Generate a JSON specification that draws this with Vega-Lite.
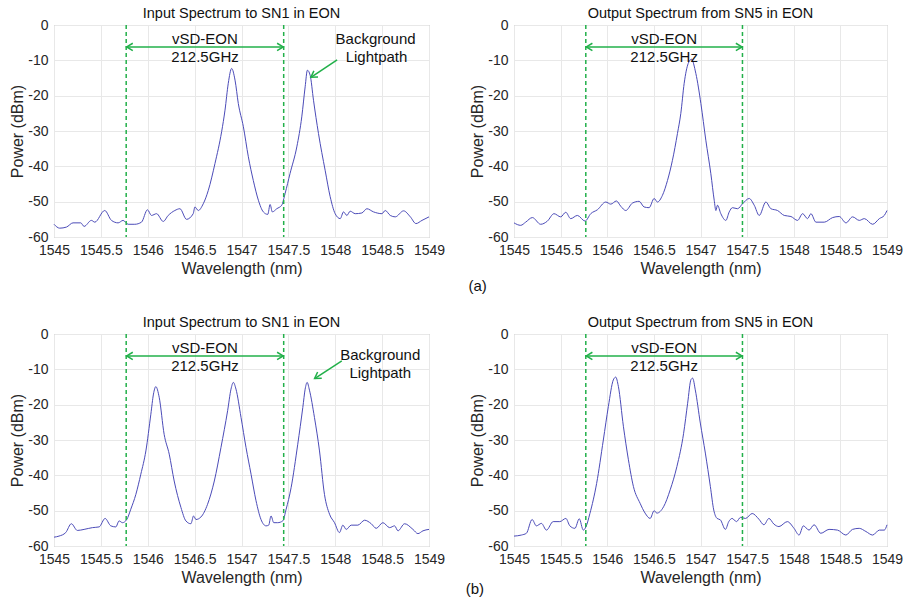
{
  "$schema": "https://vega.github.io/schema/vega-lite/v6.json",
  "background": "white",
  "padding": {"left": 9, "top": 5, "right": 5, "bottom": 5},
  "config": {
    "font": "Liberation Sans",
    "view": {"stroke": "#a8a8a8", "strokeWidth": 1},
    "axis": {"grid": true, "gridColor": "#e8e8e8", "domain": false, "ticks": false, "labelFontSize": 14, "labelColor": "#262626", "titleFontSize": 16, "titleFontWeight": "normal", "titleColor": "#262626", "labelOverlap": false, "labelFlush": false, "labelExpr": "replace(datum.label, '\u2212', '-')"},
    "axisX": {"labelPadding": 6, "titlePadding": 3},
    "axisY": {"labelPadding": 6, "titlePadding": 2},
    "title": {"fontSize": 14.5, "fontWeight": "normal", "color": "#111111", "offset": -3},
    "line": {"color": "#4b4bb8", "strokeWidth": 1, "interpolate": "monotone"},
    "text": {"fontSize": 15, "color": "#111111"}
  },
  "datasets": {
    "s1": [
      {"w":1545.000,"p":-56.4},{"w":1545.061,"p":-57.5},{"w":1545.132,"p":-57.2},{"w":1545.203,"p":-56},{"w":1545.285,"p":-56},{"w":1545.321,"p":-57},{"w":1545.399,"p":-55.3},{"w":1545.435,"p":-55.8},{"w":1545.541,"p":-52.5},{"w":1545.613,"p":-55.3},{"w":1545.684,"p":-56},{"w":1545.737,"p":-55.3},{"w":1545.791,"p":-56.4},{"w":1545.862,"p":-56.4},{"w":1545.933,"p":-55.8},{"w":1545.997,"p":-52.3},{"w":1546.040,"p":-53.9},{"w":1546.094,"p":-53.4},{"w":1546.165,"p":-55.6},{"w":1546.218,"p":-53.9},{"w":1546.289,"p":-52.5},{"w":1546.343,"p":-52},{"w":1546.414,"p":-55},{"w":1546.485,"p":-53.4},{"w":1546.503,"p":-51.5},{"w":1546.539,"p":-52.5},{"w":1546.592,"p":-50.6},{"w":1546.646,"p":-46.8},{"w":1546.717,"p":-39.2},{"w":1546.788,"p":-30.2},{"w":1546.824,"p":-24.1},{"w":1546.859,"p":-16.5},{"w":1546.895,"p":-12.3},{"w":1546.931,"p":-15.6},{"w":1546.966,"p":-22.2},{"w":1547.020,"p":-28.8},{"w":1547.073,"p":-37.3},{"w":1547.126,"p":-44},{"w":1547.180,"p":-49.6},{"w":1547.233,"p":-52.9},{"w":1547.280,"p":-53.6},{"w":1547.305,"p":-50.8},{"w":1547.329,"p":-52.9},{"w":1547.376,"p":-52},{"w":1547.429,"p":-51},{"w":1547.465,"p":-47.7},{"w":1547.518,"p":-42},{"w":1547.590,"p":-34.5},{"w":1547.643,"p":-26},{"w":1547.679,"p":-17.5},{"w":1547.703,"p":-12.8},{"w":1547.732,"p":-14.2},{"w":1547.768,"p":-21.3},{"w":1547.821,"p":-30.7},{"w":1547.892,"p":-41.1},{"w":1547.946,"p":-48.6},{"w":1547.999,"p":-53.4},{"w":1548.053,"p":-54.8},{"w":1548.088,"p":-52.9},{"w":1548.124,"p":-53.9},{"w":1548.159,"p":-52.7},{"w":1548.213,"p":-53.4},{"w":1548.284,"p":-53.2},{"w":1548.337,"p":-52},{"w":1548.409,"p":-52.9},{"w":1548.498,"p":-53.4},{"w":1548.533,"p":-52.5},{"w":1548.587,"p":-53.9},{"w":1548.640,"p":-54.3},{"w":1548.729,"p":-52.6},{"w":1548.801,"p":-54.3},{"w":1548.861,"p":-56.2},{"w":1548.925,"p":-55.3},{"w":1549.000,"p":-54.3}
    ],
    "s2": [
      {"w":1545.000,"p":-56},{"w":1545.072,"p":-56.7},{"w":1545.125,"p":-55.8},{"w":1545.197,"p":-54.5},{"w":1545.286,"p":-56.4},{"w":1545.358,"p":-55.5},{"w":1545.429,"p":-53.4},{"w":1545.501,"p":-54.3},{"w":1545.555,"p":-53},{"w":1545.608,"p":-54.8},{"w":1545.680,"p":-53.9},{"w":1545.762,"p":-55.5},{"w":1545.823,"p":-53.4},{"w":1545.894,"p":-52.3},{"w":1545.984,"p":-50.1},{"w":1546.038,"p":-50.7},{"w":1546.098,"p":-49.8},{"w":1546.145,"p":-51.3},{"w":1546.199,"p":-52.5},{"w":1546.270,"p":-50.4},{"w":1546.342,"p":-49.9},{"w":1546.395,"p":-51.5},{"w":1546.449,"p":-51.7},{"w":1546.503,"p":-49.1},{"w":1546.538,"p":-50.1},{"w":1546.592,"p":-48.2},{"w":1546.646,"p":-44},{"w":1546.699,"p":-38.3},{"w":1546.753,"p":-30.7},{"w":1546.789,"p":-25},{"w":1546.825,"p":-16.5},{"w":1546.868,"p":-10.9},{"w":1546.903,"p":-9.7},{"w":1546.950,"p":-13.7},{"w":1547.004,"p":-22.2},{"w":1547.057,"p":-32.6},{"w":1547.111,"p":-42.1},{"w":1547.147,"p":-49.6},{"w":1547.165,"p":-52.5},{"w":1547.182,"p":-51},{"w":1547.218,"p":-53.4},{"w":1547.272,"p":-55.3},{"w":1547.308,"p":-52.9},{"w":1547.343,"p":-51.7},{"w":1547.397,"p":-52},{"w":1547.451,"p":-50.6},{"w":1547.522,"p":-49.1},{"w":1547.576,"p":-51},{"w":1547.630,"p":-53.9},{"w":1547.701,"p":-50.1},{"w":1547.755,"p":-52},{"w":1547.826,"p":-52.5},{"w":1547.898,"p":-53.9},{"w":1547.970,"p":-54.2},{"w":1548.041,"p":-55.3},{"w":1548.095,"p":-53.4},{"w":1548.148,"p":-54.8},{"w":1548.184,"p":-53.4},{"w":1548.238,"p":-55.8},{"w":1548.327,"p":-55.8},{"w":1548.417,"p":-54.5},{"w":1548.488,"p":-54.2},{"w":1548.560,"p":-56},{"w":1548.631,"p":-54.3},{"w":1548.703,"p":-55.3},{"w":1548.757,"p":-54.8},{"w":1548.846,"p":-56.4},{"w":1548.918,"p":-54.8},{"w":1548.971,"p":-53.9},{"w":1549.000,"p":-52.5}
    ],
    "s3": [
      {"w":1545.000,"p":-57.5},{"w":1545.053,"p":-57.2},{"w":1545.125,"p":-56.2},{"w":1545.185,"p":-53.7},{"w":1545.249,"p":-55.6},{"w":1545.321,"p":-55.3},{"w":1545.410,"p":-54.8},{"w":1545.481,"p":-54.6},{"w":1545.545,"p":-52.2},{"w":1545.606,"p":-54.3},{"w":1545.659,"p":-54.6},{"w":1545.695,"p":-52.9},{"w":1545.730,"p":-53.4},{"w":1545.776,"p":-52.5},{"w":1545.819,"p":-49.6},{"w":1545.873,"p":-45.4},{"w":1545.926,"p":-39.7},{"w":1545.980,"p":-33.1},{"w":1546.033,"p":-22.7},{"w":1546.061,"p":-17},{"w":1546.086,"p":-14.9},{"w":1546.122,"p":-17.9},{"w":1546.175,"p":-28.4},{"w":1546.229,"p":-34},{"w":1546.282,"p":-41.6},{"w":1546.354,"p":-49.1},{"w":1546.407,"p":-52.9},{"w":1546.460,"p":-53.7},{"w":1546.489,"p":-51.5},{"w":1546.514,"p":-52.5},{"w":1546.567,"p":-51.8},{"w":1546.638,"p":-48.2},{"w":1546.710,"p":-41.6},{"w":1546.781,"p":-32.1},{"w":1546.852,"p":-21.7},{"w":1546.888,"p":-15.6},{"w":1546.913,"p":-13.7},{"w":1546.941,"p":-15.6},{"w":1546.995,"p":-23.6},{"w":1547.048,"p":-32.1},{"w":1547.102,"p":-39.7},{"w":1547.155,"p":-47.2},{"w":1547.208,"p":-52.5},{"w":1547.262,"p":-54.3},{"w":1547.290,"p":-54.1},{"w":1547.315,"p":-51.5},{"w":1547.344,"p":-53.4},{"w":1547.386,"p":-53.4},{"w":1547.440,"p":-52.9},{"w":1547.476,"p":-49.6},{"w":1547.529,"p":-43.5},{"w":1547.600,"p":-31.2},{"w":1547.654,"p":-20.8},{"w":1547.679,"p":-15.6},{"w":1547.700,"p":-13.7},{"w":1547.725,"p":-15.9},{"w":1547.778,"p":-23.6},{"w":1547.832,"p":-33.1},{"w":1547.885,"p":-45.4},{"w":1547.939,"p":-51},{"w":1547.992,"p":-53.4},{"w":1548.045,"p":-56.2},{"w":1548.081,"p":-54.1},{"w":1548.117,"p":-55.3},{"w":1548.170,"p":-54.1},{"w":1548.241,"p":-54.1},{"w":1548.313,"p":-52.7},{"w":1548.384,"p":-53.7},{"w":1548.437,"p":-55},{"w":1548.508,"p":-53.4},{"w":1548.580,"p":-54.8},{"w":1548.633,"p":-54.3},{"w":1548.669,"p":-55.7},{"w":1548.740,"p":-53.7},{"w":1548.829,"p":-55.3},{"w":1548.882,"p":-56.5},{"w":1548.936,"p":-55.7},{"w":1549.000,"p":-55.3}
    ],
    "s4": [
      {"w":1545.000,"p":-57.2},{"w":1545.079,"p":-56.9},{"w":1545.133,"p":-56.4},{"w":1545.194,"p":-52.5},{"w":1545.240,"p":-54.3},{"w":1545.294,"p":-53.6},{"w":1545.348,"p":-55.5},{"w":1545.420,"p":-53.1},{"w":1545.491,"p":-53.1},{"w":1545.556,"p":-52.2},{"w":1545.599,"p":-54.3},{"w":1545.653,"p":-55},{"w":1545.700,"p":-52.3},{"w":1545.743,"p":-55.5},{"w":1545.771,"p":-54.6},{"w":1545.814,"p":-50.8},{"w":1545.886,"p":-42.3},{"w":1545.958,"p":-30},{"w":1546.012,"p":-20.5},{"w":1546.065,"p":-13},{"w":1546.091,"p":-12.2},{"w":1546.119,"p":-14.8},{"w":1546.173,"p":-26.1},{"w":1546.227,"p":-35.6},{"w":1546.281,"p":-43.2},{"w":1546.352,"p":-47.9},{"w":1546.406,"p":-50.7},{"w":1546.460,"p":-52.2},{"w":1546.503,"p":-50},{"w":1546.532,"p":-50.7},{"w":1546.604,"p":-48.9},{"w":1546.675,"p":-44.1},{"w":1546.747,"p":-37.5},{"w":1546.819,"p":-28.1},{"w":1546.862,"p":-19.6},{"w":1546.898,"p":-12.9},{"w":1546.916,"p":-12.5},{"w":1546.944,"p":-15.8},{"w":1546.998,"p":-25.2},{"w":1547.052,"p":-33.7},{"w":1547.106,"p":-43.2},{"w":1547.142,"p":-49.8},{"w":1547.178,"p":-52.2},{"w":1547.213,"p":-52.6},{"w":1547.267,"p":-55.3},{"w":1547.303,"p":-53.1},{"w":1547.339,"p":-52.2},{"w":1547.386,"p":-53.1},{"w":1547.429,"p":-51.9},{"w":1547.483,"p":-52.2},{"w":1547.554,"p":-50.8},{"w":1547.626,"p":-52.4},{"w":1547.680,"p":-54},{"w":1547.734,"p":-52.2},{"w":1547.787,"p":-53.8},{"w":1547.841,"p":-54.5},{"w":1547.931,"p":-53.1},{"w":1548.003,"p":-55},{"w":1548.057,"p":-56.9},{"w":1548.103,"p":-54.3},{"w":1548.164,"p":-55.5},{"w":1548.218,"p":-54},{"w":1548.290,"p":-56.4},{"w":1548.379,"p":-55.3},{"w":1548.469,"p":-55.5},{"w":1548.559,"p":-56.9},{"w":1548.630,"p":-55.3},{"w":1548.702,"p":-55},{"w":1548.774,"p":-55.9},{"w":1548.846,"p":-56.9},{"w":1548.918,"p":-55.5},{"w":1548.971,"p":-55.5},{"w":1549.000,"p":-54}
    ],
    "band": [{"w":1545.77,"p":0,"p2":-60},{"w":1547.45,"p":0,"p2":-60}],
    "bandArrow": [{"w":1545.775,"w2":1547.445,"p":-6.2}],
    "headL": [{"w":1545.775,"p":-6.2}],
    "headR": [{"w":1547.445,"p":-6.2}],
    "bandText": [{"w":1546.61,"p":-3.9,"t":"vSD-EON"},{"w":1546.61,"p":-9.0,"t":"212.5GHz"}],
    "bgText1": [{"w":1548.43,"p":-3.9,"t":"Background"},{"w":1548.44,"p":-9.0,"t":"Lightpath"}],
    "bgArrow1": [{"w":1548.02,"p":-9.9,"w2":1547.74,"p2":-14.8}],
    "bgHead1": [{"w":1547.74,"p":-14.8}],
    "bgText3": [{"w":1548.48,"p":-5.9,"t":"Background"},{"w":1548.48,"p":-11.0,"t":"Lightpath"}],
    "bgArrow3": [{"w":1548.07,"p":-7.6,"w2":1547.78,"p2":-12.6}],
    "bgHead3": [{"w":1547.78,"p":-12.6}],
    "labA": [{"w":1544.61,"p":-73.8,"t":"(a)"}],
    "labB": [{"w":1544.58,"p":-72.3,"t":"(b)"}]
  },
  "columns": 2,
  "spacing": {"row": 19, "column": 19},
  "concat": [
    {
      "width": 375, "height": 212,
      "title": "Input Spectrum to SN1 in EON",
      "encoding": {
        "x": {"field": "w", "type": "quantitative", "scale": {"domain": [1545, 1549], "nice": false, "zero": false}, "axis": {"title": "Wavelength (nm)", "values": [1545, 1545.5, 1546, 1546.5, 1547, 1547.5, 1548, 1548.5, 1549], "format": "~g", "labelOverlap": false}},
        "y": {"field": "p", "type": "quantitative", "scale": {"domain": [-60, 0], "nice": false, "zero": false}, "axis": {"title": "Power (dBm)", "values": [-60, -50, -40, -30, -20, -10, 0], "labelOverlap": false, "tickCount": 7}}
      },
      "layer": [
        {"data": {"name": "s1"}, "mark": {"type": "line"}},
        {"data": {"name": "band"}, "mark": {"type": "rule", "color": "#22b04a", "strokeWidth": 1.5, "strokeDash": [4, 3]}, "encoding": {"y2": {"field": "p2"}}},
        {"data": {"name": "bandArrow"}, "mark": {"type": "rule", "color": "#22b04a", "strokeWidth": 1.5}, "encoding": {"x2": {"field": "w2"}}},
        {"data": {"name": "headL"}, "mark": {"type": "point", "shape": "M1,-0.6L0,0L1,0.6", "filled": false, "color": "#22b04a", "strokeWidth": 1.5, "size": 150, "opacity": 1}},
        {"data": {"name": "headR"}, "mark": {"type": "point", "shape": "M-1,-0.6L0,0L-1,0.6", "filled": false, "color": "#22b04a", "strokeWidth": 1.5, "size": 150, "opacity": 1}},
        {"data": {"name": "bandText"}, "mark": {"type": "text"}, "encoding": {"text": {"field": "t"}}},
        {"data": {"name": "bgText1"}, "mark": {"type": "text"}, "encoding": {"text": {"field": "t"}}},
        {"data": {"name": "bgArrow1"}, "mark": {"type": "rule", "color": "#22b04a", "strokeWidth": 1.5}, "encoding": {"x2": {"field": "w2"}, "y2": {"field": "p2"}}},
        {"data": {"name": "bgHead1"}, "mark": {"type": "point", "shape": "M-1,-0.6L0,0L-1,0.6", "angle": 146, "filled": false, "color": "#22b04a", "strokeWidth": 1.5, "size": 150, "opacity": 1}}
      ]
    },
    {
      "width": 373, "height": 212,
      "title": "Output Spectrum from SN5 in EON",
      "encoding": {
        "x": {"field": "w", "type": "quantitative", "scale": {"domain": [1545, 1549], "nice": false, "zero": false}, "axis": {"title": "Wavelength (nm)", "values": [1545, 1545.5, 1546, 1546.5, 1547, 1547.5, 1548, 1548.5, 1549], "format": "~g", "labelOverlap": false}},
        "y": {"field": "p", "type": "quantitative", "scale": {"domain": [-60, 0], "nice": false, "zero": false}, "axis": {"title": "Power (dBm)", "values": [-60, -50, -40, -30, -20, -10, 0], "labelOverlap": false, "tickCount": 7}}
      },
      "layer": [
        {"data": {"name": "s2"}, "mark": {"type": "line"}},
        {"data": {"name": "band"}, "mark": {"type": "rule", "color": "#22b04a", "strokeWidth": 1.5, "strokeDash": [4, 3]}, "encoding": {"y2": {"field": "p2"}}},
        {"data": {"name": "bandArrow"}, "mark": {"type": "rule", "color": "#22b04a", "strokeWidth": 1.5}, "encoding": {"x2": {"field": "w2"}}},
        {"data": {"name": "headL"}, "mark": {"type": "point", "shape": "M1,-0.6L0,0L1,0.6", "filled": false, "color": "#22b04a", "strokeWidth": 1.5, "size": 150, "opacity": 1}},
        {"data": {"name": "headR"}, "mark": {"type": "point", "shape": "M-1,-0.6L0,0L-1,0.6", "filled": false, "color": "#22b04a", "strokeWidth": 1.5, "size": 150, "opacity": 1}},
        {"data": {"name": "bandText"}, "mark": {"type": "text"}, "encoding": {"text": {"field": "t"}}},
        {"data": {"name": "labA"}, "mark": {"type": "text"}, "encoding": {"text": {"field": "t"}}}
      ]
    },
    {
      "width": 375, "height": 212,
      "title": "Input Spectrum to SN1 in EON",
      "encoding": {
        "x": {"field": "w", "type": "quantitative", "scale": {"domain": [1545, 1549], "nice": false, "zero": false}, "axis": {"title": "Wavelength (nm)", "values": [1545, 1545.5, 1546, 1546.5, 1547, 1547.5, 1548, 1548.5, 1549], "format": "~g", "labelOverlap": false}},
        "y": {"field": "p", "type": "quantitative", "scale": {"domain": [-60, 0], "nice": false, "zero": false}, "axis": {"title": "Power (dBm)", "values": [-60, -50, -40, -30, -20, -10, 0], "labelOverlap": false, "tickCount": 7}}
      },
      "layer": [
        {"data": {"name": "s3"}, "mark": {"type": "line"}},
        {"data": {"name": "band"}, "mark": {"type": "rule", "color": "#22b04a", "strokeWidth": 1.5, "strokeDash": [4, 3]}, "encoding": {"y2": {"field": "p2"}}},
        {"data": {"name": "bandArrow"}, "mark": {"type": "rule", "color": "#22b04a", "strokeWidth": 1.5}, "encoding": {"x2": {"field": "w2"}}},
        {"data": {"name": "headL"}, "mark": {"type": "point", "shape": "M1,-0.6L0,0L1,0.6", "filled": false, "color": "#22b04a", "strokeWidth": 1.5, "size": 150, "opacity": 1}},
        {"data": {"name": "headR"}, "mark": {"type": "point", "shape": "M-1,-0.6L0,0L-1,0.6", "filled": false, "color": "#22b04a", "strokeWidth": 1.5, "size": 150, "opacity": 1}},
        {"data": {"name": "bandText"}, "mark": {"type": "text"}, "encoding": {"text": {"field": "t"}}},
        {"data": {"name": "bgText3"}, "mark": {"type": "text"}, "encoding": {"text": {"field": "t"}}},
        {"data": {"name": "bgArrow3"}, "mark": {"type": "rule", "color": "#22b04a", "strokeWidth": 1.5}, "encoding": {"x2": {"field": "w2"}, "y2": {"field": "p2"}}},
        {"data": {"name": "bgHead3"}, "mark": {"type": "point", "shape": "M-1,-0.6L0,0L-1,0.6", "angle": 146, "filled": false, "color": "#22b04a", "strokeWidth": 1.5, "size": 150, "opacity": 1}}
      ]
    },
    {
      "width": 373, "height": 212,
      "title": "Output Spectrum from SN5 in EON",
      "encoding": {
        "x": {"field": "w", "type": "quantitative", "scale": {"domain": [1545, 1549], "nice": false, "zero": false}, "axis": {"title": "Wavelength (nm)", "values": [1545, 1545.5, 1546, 1546.5, 1547, 1547.5, 1548, 1548.5, 1549], "format": "~g", "labelOverlap": false}},
        "y": {"field": "p", "type": "quantitative", "scale": {"domain": [-60, 0], "nice": false, "zero": false}, "axis": {"title": "Power (dBm)", "values": [-60, -50, -40, -30, -20, -10, 0], "labelOverlap": false, "tickCount": 7}}
      },
      "layer": [
        {"data": {"name": "s4"}, "mark": {"type": "line"}},
        {"data": {"name": "band"}, "mark": {"type": "rule", "color": "#22b04a", "strokeWidth": 1.5, "strokeDash": [4, 3]}, "encoding": {"y2": {"field": "p2"}}},
        {"data": {"name": "bandArrow"}, "mark": {"type": "rule", "color": "#22b04a", "strokeWidth": 1.5}, "encoding": {"x2": {"field": "w2"}}},
        {"data": {"name": "headL"}, "mark": {"type": "point", "shape": "M1,-0.6L0,0L1,0.6", "filled": false, "color": "#22b04a", "strokeWidth": 1.5, "size": 150, "opacity": 1}},
        {"data": {"name": "headR"}, "mark": {"type": "point", "shape": "M-1,-0.6L0,0L-1,0.6", "filled": false, "color": "#22b04a", "strokeWidth": 1.5, "size": 150, "opacity": 1}},
        {"data": {"name": "bandText"}, "mark": {"type": "text"}, "encoding": {"text": {"field": "t"}}},
        {"data": {"name": "labB"}, "mark": {"type": "text"}, "encoding": {"text": {"field": "t"}}}
      ]
    }
  ]
}
